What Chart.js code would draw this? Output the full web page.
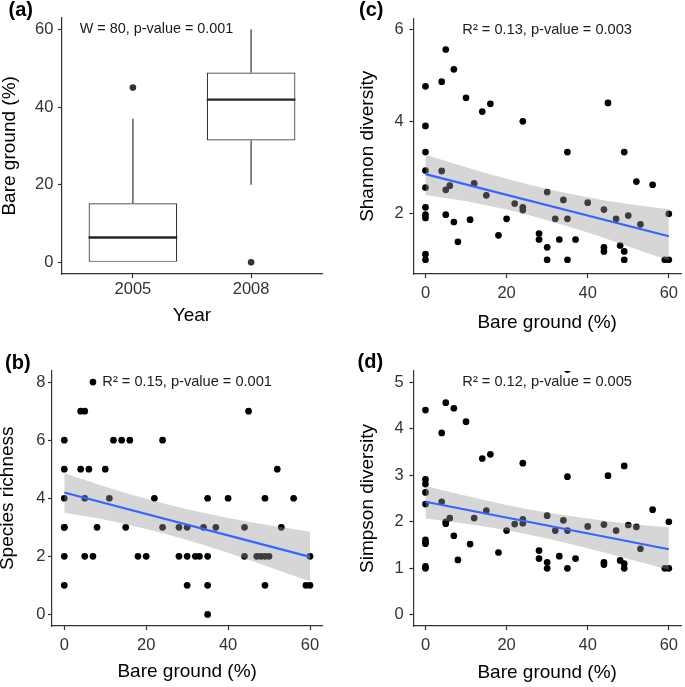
<!DOCTYPE html>
<html>
<head>
<meta charset="utf-8">
<script src="https://cdn.jsdelivr.net/npm/chart.js@4.4.1/dist/chart.umd.min.js"></script>
<style>
    html, body { margin: 0; padding: 0; background: #fff; }
    #wrap { position: relative; width: 685px; height: 687px; overflow: hidden; background: #fff;
            font-family: 'Liberation Sans', Arial, sans-serif; }
    #wrap canvas { position: absolute; }
    .tag { position: absolute; font-size: 20px; line-height: 20px; font-weight: bold; color: #000; }
</style>
</head>
<body>
<div id="wrap">
    <canvas id="chartA" width="342" height="340" style="left:0;top:0"></canvas>
    <canvas id="chartC" width="343" height="340" style="left:342px;top:0"></canvas>
    <canvas id="chartB" width="342" height="347" style="left:0;top:340px"></canvas>
    <canvas id="chartD" width="343" height="347" style="left:342px;top:340px"></canvas>
    <div class="tag" style="left:8.5px;top:-1px">(a)</div>
    <div class="tag" style="left:359px;top:-1px">(c)</div>
    <div class="tag" style="left:5px;top:352px">(b)</div>
    <div class="tag" style="left:357.5px;top:351px">(d)</div>
</div>
<script>
const FONT = "'Liberation Sans', Arial, sans-serif";

// (a) Bare ground by year
const years = ['2005', '2008'];
const boxLow = [0, 20];
const boxQ1 = [0, 31.4];
const boxMedian = [6.4, 41.9];
const boxQ3 = [15.2, 48.9];
const boxHigh = [37, 60];
const outlierYear = [0, 1];
const outlierBare = [45, 0];
const bareTicksA = [0, 20, 40, 60];

// shared x axis of b, c, d
const bareTicks = [0, 20, 40, 60];
const fitX = [0, 60];
const ribbonX = [0, 10, 20, 30, 40, 50, 60];

// (b) Species richness
const bareB = [0, 0, 0, 0, 0, 0, 0, 4, 4, 5, 5, 5, 6, 7, 7, 8, 10, 11, 12, 14, 15, 16, 18, 20, 22, 24, 24,
    28, 28, 30, 30, 30, 32, 33, 34, 35, 35, 35, 35, 37, 40, 44, 44, 45, 47, 48, 49, 49, 49, 50, 52, 53, 56, 59, 60, 60];
const richness = [6, 5, 4, 3, 3, 2, 1, 7, 5, 7, 4, 2, 5, 8, 2, 3, 5, 4, 6, 6, 3, 6, 2, 2, 4, 6, 3,
    3, 2, 3, 2, 1, 2, 2, 3, 4, 2, 1, 0, 3, 4, 3, 2, 7, 2, 2, 4, 2, 1, 2, 5, 3, 4, 1, 2, 1];
const richnessFit = [4.20, 1.98];
const richnessUpper = [4.86, 4.40, 3.98, 3.62, 3.32, 3.07, 2.85];
const richnessLower = [3.50, 3.26, 2.94, 2.56, 2.12, 1.63, 1.13];
const richnessTicks = [0, 2, 4, 6, 8];

// (c) Shannon diversity
const bareC = [0, 0, 0, 0, 0, 0, 0, 0, 0, 0, 4, 4, 5, 5, 5, 6, 7, 7, 8, 10, 11, 12, 14, 15, 16, 18, 20, 22, 24, 24, 24,
    28, 28, 30, 30, 30, 32, 33, 34, 35, 35, 35, 37, 40, 44, 44, 44, 45, 47, 48, 49, 49, 49, 50, 52, 53, 56, 59, 60, 60];
const shannon = [4.77, 3.91, 3.34, 2.94, 2.57, 2.14, 1.98, 1.91, 1.12, 1.0, 4.87, 2.93, 5.57, 2.52, 1.98, 2.61,
    5.14, 1.82, 1.39, 4.52, 1.87, 2.66, 4.22, 2.40, 4.39, 1.53, 1.89, 2.22, 4.01, 2.14, 2.08,
    1.57, 1.44, 2.47, 1.27, 1.0, 1.89, 1.44, 2.30, 3.34, 1.89, 1.0, 1.44, 2.24, 2.09, 1.27, 1.18,
    4.41, 1.89, 1.31, 3.34, 1.18, 1.0, 1.96, 2.70, 1.77, 2.63, 1.0, 2.0, 1.0];
const shannonFit = [2.86, 1.51];
const shannonUpper = [3.28, 3.01, 2.76, 2.54, 2.36, 2.21, 2.10];
const shannonLower = [2.41, 2.27, 2.09, 1.86, 1.59, 1.29, 0.99];
const shannonTicks = [2, 4, 6];

// (d) Simpson diversity
const bareD = [0, 0, 0, 0, 0, 0, 0, 0, 0, 0, 4, 4, 5, 5, 5, 6, 7, 7, 8, 10, 11, 12, 14, 15, 16, 18, 20, 22, 24, 24, 24,
    28, 28, 30, 30, 30, 32, 33, 34, 35, 35, 35, 35, 37, 40, 44, 44, 44, 45, 47, 48, 49, 49, 49, 50, 52, 53, 56, 59, 60, 60];
const simpson = [4.40, 2.91, 2.81, 2.63, 2.38, 1.61, 1.56, 1.53, 1.04, 1.0, 3.91, 2.43, 4.56, 2.0, 1.96, 2.08,
    4.44, 1.70, 1.18, 4.15, 1.52, 2.08, 3.36, 2.24, 3.45, 1.34, 1.81, 1.95, 3.26, 2.05, 1.97,
    1.38, 1.21, 2.13, 1.13, 1.0, 1.81, 1.26, 2.03, 5.27, 2.97, 1.81, 1.0, 1.21, 1.90, 1.94, 1.13, 1.08,
    2.99, 1.81, 1.17, 3.20, 1.10, 1.0, 1.93, 1.89, 1.42, 2.26, 1.0, 2.0, 1.0];
const simpsonFit = [2.43, 1.41];
const simpsonUpper = [2.77, 2.56, 2.36, 2.20, 2.07, 1.96, 1.88];
const simpsonLower = [2.07, 1.96, 1.82, 1.64, 1.43, 1.20, 0.97];
const simpsonTicks = [0, 1, 2, 3, 4, 5];

const INK = '#333333';
const BOX_WIDTH = 0.75;

// text placed at data coordinates, like annotate() in ggplot
const notePlugin = {
    id: 'note',
    afterDatasetsDraw(chart, args, opts) {
        if (!opts.text) return;
        const { ctx, scales } = chart;
        ctx.save();
        ctx.font = opts.size + 'px ' + FONT;
        ctx.fillStyle = '#1a1a1a';
        ctx.textAlign = 'center';
        ctx.textBaseline = 'middle';
        ctx.fillText(opts.text, scales.x.getPixelForValue(opts.x), scales.y.getPixelForValue(opts.y));
        ctx.restore();
    }
};

function axis(o) {
    return {
        type: 'linear',
        bounds: 'data',
        min: o.min,
        max: o.max,
        offset: false,
        afterBuildTicks: s => { s.ticks = o.ticks.map(v => ({ value: v })); },
        afterFit: s => { if (o.width !== undefined) s.width = o.width; if (o.height !== undefined) s.height = o.height; },
        border: { display: true, color: INK, width: 1.2 },
        grid: { offset: false, drawOnChartArea: false, drawTicks: true, tickLength: 4, tickColor: INK, tickWidth: 1.2 },
        ticks: {
            color: INK,
            padding: o.tickPad,
            font: { family: FONT, size: 16.5 },
            callback: o.label || (v => String(v))
        },
        title: {
            display: true,
            text: o.title,
            color: '#000',
            font: { family: FONT, size: 19 },
            padding: o.titlePad
        }
    };
}

function renderBoxChart() {
    const ctx = document.getElementById('chartA').getContext('2d');
    const datasets = [];

    years.forEach((year, i) => {
        const x = i + 1;
        datasets.push({
            type: 'line',
            data: [{ x: x - BOX_WIDTH / 2, y: boxMedian[i] }, { x: x + BOX_WIDTH / 2, y: boxMedian[i] }],
            borderColor: '#262626',
            borderWidth: 2.4,
            pointRadius: 0
        });
        datasets.push({
            type: 'line',
            data: [{ x: x, y: boxQ3[i] }, { x: x, y: boxHigh[i] }],
            borderColor: INK,
            borderWidth: 1.2,
            pointRadius: 0
        });
        datasets.push({
            type: 'line',
            data: [{ x: x, y: boxLow[i] }, { x: x, y: boxQ1[i] }],
            borderColor: INK,
            borderWidth: 1.2,
            pointRadius: 0
        });
    });

    datasets.push({
        type: 'line',
        showLine: false,
        data: outlierYear.map((g, i) => ({ x: g + 1, y: outlierBare[i] })),
        pointRadius: 3.3,
        pointBackgroundColor: INK,
        pointBorderColor: INK,
        pointBorderWidth: 0
    });

    datasets.push({
        type: 'bar',
        data: years.map((year, i) => ({ x: i + 1, y: [boxQ1[i], boxQ3[i]] })),
        backgroundColor: '#ffffff',
        borderColor: INK,
        borderWidth: 1.2,
        borderSkipped: false,
        barPercentage: BOX_WIDTH,
        categoryPercentage: 1
    });

    new Chart(ctx, {
        type: 'bar',
        data: { datasets: datasets },
        options: {
            responsive: false,
            animation: false,
            devicePixelRatio: 1,
            layout: { padding: { left: 0, top: 17.7, right: 20, bottom: 0 } },
            plugins: {
                legend: { display: false },
                tooltip: { enabled: false },
                note: { text: 'W = 80, p-value = 0.001', x: 1.2, y: 60, size: 14.4 }
            },
            scales: {
                x: axis({ min: 0.4, max: 2.6, ticks: [1, 2], label: v => years[v - 1], height: 66,
                    tickPad: 2, title: 'Year', titlePad: { top: 0, bottom: 13.2 } }),
                y: axis({ min: -3, max: 63, ticks: bareTicksA, width: 62,
                    tickPad: 4.6, title: 'Bare ground (%)', titlePad: { top: -1.3, bottom: 0 } })
            }
        },
        plugins: [notePlugin]
    });
}

function renderScatterPanel(id, p) {
    const ctx = document.getElementById(id).getContext('2d');

    new Chart(ctx, {
        type: 'scatter',
        data: {
            datasets: [
                {
                    type: 'line',
                    data: fitX.map((x, i) => ({ x: x, y: p.fit[i] })),
                    borderColor: '#3366ff',
                    borderWidth: 2.2,
                    pointRadius: 0,
                    fill: false
                },
                {
                    type: 'line',
                    data: ribbonX.map((x, i) => ({ x: x, y: p.upper[i] })),
                    borderColor: 'rgba(0,0,0,0)',
                    borderWidth: 0,
                    pointRadius: 0,
                    cubicInterpolationMode: 'monotone',
                    fill: '+1',
                    backgroundColor: 'rgba(153,153,153,0.4)'
                },
                {
                    type: 'line',
                    data: ribbonX.map((x, i) => ({ x: x, y: p.lower[i] })),
                    borderColor: 'rgba(0,0,0,0)',
                    borderWidth: 0,
                    pointRadius: 0,
                    cubicInterpolationMode: 'monotone',
                    fill: false
                },
                {
                    data: p.x.map((x, i) => ({ x: x, y: p.y[i] })),
                    pointRadius: 3.35,
                    pointBackgroundColor: '#000',
                    pointBorderColor: '#000',
                    pointBorderWidth: 0,
                    clip: 0
                }
            ]
        },
        options: {
            responsive: false,
            animation: false,
            devicePixelRatio: 1,
            layout: { padding: { left: 0, top: p.top, right: p.right, bottom: 0 } },
            plugins: {
                legend: { display: false },
                tooltip: { enabled: false },
                note: { text: p.note, x: 30, y: p.noteY, size: 14.6 }
            },
            scales: {
                x: axis({ min: -3, max: 63, ticks: bareTicks, height: p.xHeight,
                    tickPad: p.xTickPad, title: 'Bare ground (%)', titlePad: { top: 0, bottom: p.xTitlePad } }),
                y: axis({ min: p.yMin, max: p.yMax, ticks: p.yTicks, width: p.yWidth,
                    tickPad: p.yTickPad, title: p.yTitle, titlePad: { top: p.yTitlePad, bottom: 0 } })
            }
        },
        plugins: [notePlugin]
    });
}

renderBoxChart();

renderScatterPanel('chartC', {
    x: bareC, y: shannon, fit: shannonFit, upper: shannonUpper, lower: shannonLower,
    yMin: 0.69, yMax: 6.24, yTicks: shannonTicks, yTitle: 'Shannon diversity',
    note: 'R² = 0.13, p-value = 0.003', noteY: 6,
    top: 18.7, right: 2.8, yWidth: 71.3, xHeight: 66,
    xTickPad: 5.4, yTickPad: 5.5, xTitlePad: 5.6, yTitlePad: 14.6
});

renderScatterPanel('chartB', {
    x: bareB, y: richness, fit: richnessFit, upper: richnessUpper, lower: richnessLower,
    yMin: -0.4, yMax: 8.4, yTicks: richnessTicks, yTitle: 'Species richness',
    note: 'R² = 0.15, p-value = 0.001', noteY: 8,
    top: 30.5, right: 19.7, yWidth: 52, xHeight: 61,
    xTickPad: 5.1, yTickPad: 2.5, xTitlePad: 3.9, yTitlePad: -3.9
});

renderScatterPanel('chartD', {
    x: bareD, y: simpson, fit: simpsonFit, upper: simpsonUpper, lower: simpsonLower,
    yMin: -0.24, yMax: 5.24, yTicks: simpsonTicks, yTitle: 'Simpson diversity',
    note: 'R² = 0.12, p-value = 0.005', noteY: 5,
    top: 31, right: 2.8, yWidth: 71.3, xHeight: 61,
    xTickPad: 5.1, yTickPad: 5.5, xTitlePad: 2.6, yTitlePad: 14.6
});
</script>
</body>
</html>
